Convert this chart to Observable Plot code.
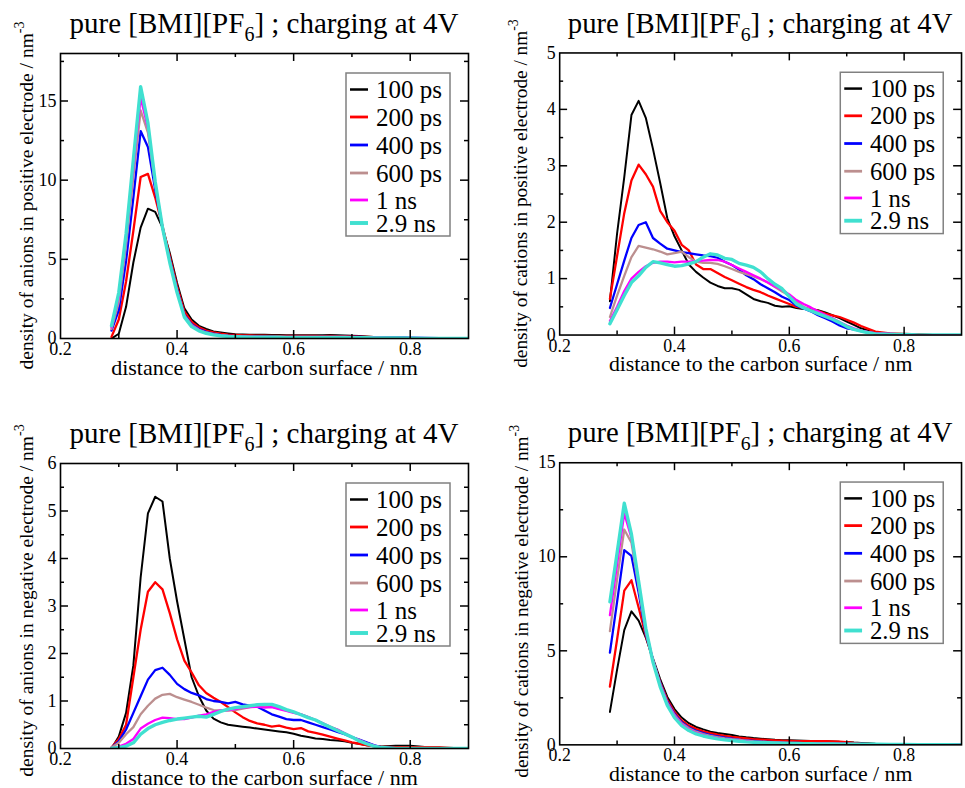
<!DOCTYPE html>
<html>
<head>
<meta charset="utf-8">
<script src="https://cdn.jsdelivr.net/npm/d3@7"></script>
<script src="https://cdn.jsdelivr.net/npm/@observablehq/plot@0.6"></script>
<style>
  html, body { margin: 0; padding: 0; background: #fff; overflow: hidden; }
  #root { position: relative; width: 965px; height: 788px; overflow: hidden; background: #fff; }
  .panel { position: absolute; }
</style>
</head>
<body>
<div id="root"></div>
<script>
// ---------------- data ----------------
const seriesLabels = ["100 ps", "200 ps", "400 ps", "600 ps", "1 ns", "2.9 ns"];

const distance = [0.2875, 0.3, 0.3125, 0.325, 0.3375, 0.35, 0.3625, 0.375, 0.3875, 0.4,
  0.4125, 0.425, 0.4375, 0.45, 0.4625, 0.475, 0.4875, 0.5, 0.5125, 0.525,
  0.5375, 0.55, 0.5625, 0.575, 0.5875, 0.6, 0.6125, 0.625, 0.6375, 0.65,
  0.6625, 0.675, 0.6875, 0.7, 0.7125, 0.725, 0.7375, 0.75, 0.775, 0.8,
  0.825, 0.85, 0.875, 0.9];

const xTickLabels = [0.2, 0.4, 0.6, 0.8];

// anions in positive electrode (top left), one row per series
const anionsPositive = [
  [0.0, 0.3, 2.0, 4.8, 7.0, 8.2, 8.0, 7.0, 5.4, 3.5, 1.9, 1.2, 0.8, 0.6, 0.45, 0.38, 0.32, 0.27,
   0.25, 0.24, 0.23, 0.23, 0.22, 0.22, 0.21, 0.21, 0.2, 0.2, 0.21, 0.2, 0.22, 0.2, 0.19, 0.18, 0.16, 0.13, 0.1, 0.08,
   0.05, 0.03, 0.02, 0.01, 0, 0],
  [0.1, 1.2, 3.6, 6.8, 10.2, 10.4, 8.9, 7.1, 5.2, 3.3, 1.7, 1.05, 0.7, 0.5, 0.38, 0.3, 0.25, 0.22,
   0.2, 0.19, 0.18, 0.18, 0.17, 0.17, 0.16, 0.16, 0.17, 0.16, 0.16, 0.15, 0.16, 0.15, 0.15, 0.14, 0.12, 0.1, 0.08, 0.06,
   0.04, 0.03, 0.02, 0.01, 0, 0],
  [0.5, 1.8, 4.9, 8.9, 13.1, 12.1, 9.4, 7.0, 5.0, 3.1, 1.5, 0.9, 0.6, 0.42, 0.3, 0.23, 0.18, 0.15,
   0.13, 0.12, 0.12, 0.11, 0.11, 0.1, 0.1, 0.1, 0.1, 0.1, 0.1, 0.1, 0.1, 0.1, 0.1, 0.1, 0.1, 0.09, 0.09, 0.08,
   0.07, 0.06, 0.04, 0.02, 0.01, 0],
  [0.6, 2.3, 5.9, 10.2, 14.4, 13.0, 9.7, 7.0, 4.9, 3.0, 1.45, 0.85, 0.55, 0.38, 0.27, 0.2, 0.16, 0.13,
   0.12, 0.11, 0.1, 0.1, 0.1, 0.1, 0.09, 0.09, 0.09, 0.09, 0.09, 0.08, 0.08, 0.08, 0.08, 0.07, 0.07, 0.06, 0.06, 0.05,
   0.04, 0.03, 0.02, 0.01, 0, 0],
  [0.7, 2.6, 6.3, 10.8, 15.2, 13.3, 9.8, 7.0, 4.9, 3.0, 1.4, 0.8, 0.52, 0.36, 0.25, 0.19, 0.15, 0.12,
   0.11, 0.1, 0.1, 0.09, 0.09, 0.09, 0.08, 0.08, 0.08, 0.08, 0.08, 0.08, 0.07, 0.07, 0.07, 0.06, 0.06, 0.05, 0.05, 0.04,
   0.03, 0.02, 0.02, 0.02, 0.03, 0.02],
  [0.8, 2.9, 6.6, 11.3, 15.9, 13.6, 9.9, 7.0, 4.8, 2.9, 1.35, 0.75, 0.48, 0.33, 0.23, 0.17, 0.13, 0.11,
   0.1, 0.09, 0.09, 0.08, 0.08, 0.08, 0.07, 0.07, 0.07, 0.07, 0.07, 0.06, 0.06, 0.06, 0.06, 0.05, 0.05, 0.05, 0.04, 0.04,
   0.03, 0.02, 0.01, 0.01, 0, 0]
];

// cations in positive electrode (top right)
const cationsPositive = [
  [0.6, 1.8, 2.8, 3.9, 4.15, 3.85, 3.3, 2.7, 2.07, 1.75, 1.5, 1.25, 1.12, 1.02, 0.93, 0.87, 0.83, 0.83, 0.8, 0.72,
   0.64, 0.6, 0.57, 0.52, 0.5, 0.51, 0.48, 0.46, 0.46, 0.44, 0.4, 0.35, 0.3, 0.24, 0.18, 0.12, 0.08, 0.05,
   0.02, 0.01, 0.01, 0, 0, 0],
  [0.64, 1.4, 2.16, 2.74, 3.02, 2.85, 2.63, 2.2, 2.0, 1.85, 1.6, 1.5, 1.25, 1.17, 1.17, 1.1, 1.03, 0.97, 0.91, 0.85,
   0.8, 0.76, 0.7, 0.65, 0.6, 0.55, 0.5, 0.48, 0.46, 0.43, 0.38, 0.35, 0.32, 0.27, 0.22, 0.16, 0.11, 0.06,
   0.03, 0.02, 0.01, 0, 0, 0],
  [0.48, 0.9, 1.32, 1.72, 1.95, 2.0, 1.72, 1.62, 1.53, 1.5, 1.47, 1.45, 1.43, 1.41, 1.4, 1.37, 1.3, 1.24, 1.16, 1.06,
   0.99, 0.9, 0.83, 0.76, 0.68, 0.62, 0.52, 0.47, 0.42, 0.35, 0.3, 0.24, 0.17, 0.12, 0.1, 0.07, 0.05, 0.03,
   0.02, 0.01, 0, 0, 0, 0],
  [0.32, 0.7, 1.05, 1.38, 1.58, 1.55, 1.52, 1.48, 1.43, 1.45, 1.48, 1.38, 1.3, 1.28, 1.28, 1.26, 1.22, 1.17, 1.12, 1.08,
   1.04, 0.99, 0.93, 0.85, 0.77, 0.7, 0.6, 0.5, 0.44, 0.39, 0.34, 0.29, 0.22, 0.16, 0.11, 0.08, 0.05, 0.03,
   0.02, 0.01, 0, 0, 0, 0],
  [0.25, 0.5, 0.78, 1.0, 1.12, 1.22, 1.28, 1.3, 1.3, 1.29, 1.3, 1.3, 1.31, 1.32, 1.33, 1.33, 1.3, 1.24, 1.18, 1.12,
   1.06, 1.0, 0.93, 0.86, 0.8, 0.72, 0.62, 0.55, 0.49, 0.42, 0.36, 0.3, 0.23, 0.17, 0.12, 0.08, 0.05, 0.03,
   0.02, 0.01, 0, 0, 0, 0],
  [0.2, 0.45, 0.7, 0.93, 1.05, 1.2, 1.3, 1.28, 1.25, 1.22, 1.23, 1.26, 1.3, 1.38, 1.44, 1.42, 1.36, 1.34, 1.27, 1.24,
   1.2, 1.12, 1.0, 0.9, 0.82, 0.68, 0.55, 0.48, 0.43, 0.38, 0.33, 0.28, 0.22, 0.15, 0.1, 0.07, 0.04, 0.02,
   0.01, 0.01, 0, 0, 0, 0]
];

// anions in negative electrode (bottom left)
const anionsNegative = [
  [0.0, 0.25, 0.75, 1.75, 3.6, 4.95, 5.3, 5.2, 4.0, 3.1, 2.3, 1.5, 1.1, 0.8, 0.63, 0.55, 0.5, 0.48, 0.46, 0.44,
   0.42, 0.4, 0.38, 0.36, 0.34, 0.31, 0.27, 0.24, 0.21, 0.2, 0.18, 0.17, 0.15, 0.12, 0.1, 0.07, 0.05, 0.04,
   0.06, 0.06, 0.03, 0.01, 0, 0],
  [0.02, 0.2, 0.5, 1.5, 2.5, 3.3, 3.5, 3.35, 2.85, 2.3, 1.85, 1.6, 1.33, 1.17, 1.07, 0.98, 0.87, 0.76, 0.66, 0.58,
   0.53, 0.5, 0.46, 0.48, 0.44, 0.41, 0.43, 0.36, 0.33, 0.29, 0.25, 0.21, 0.17, 0.13, 0.1, 0.07, 0.05, 0.04,
   0.03, 0.03, 0.03, 0.03, 0.01, 0],
  [0.02, 0.15, 0.4, 0.75, 1.1, 1.45, 1.65, 1.7, 1.55, 1.36, 1.25, 1.17, 1.12, 1.04, 1.0, 0.98, 0.95, 0.98, 0.93, 0.9,
   0.88, 0.8, 0.72, 0.67, 0.62, 0.6, 0.6, 0.55, 0.5, 0.45, 0.4, 0.35, 0.3, 0.24, 0.19, 0.13, 0.07, 0.03,
   0.01, 0, 0, 0, 0, 0],
  [0.02, 0.12, 0.3, 0.45, 0.72, 0.9, 1.05, 1.13, 1.15, 1.08, 1.03, 0.98, 0.92, 0.86, 0.81, 0.8, 0.8, 0.81, 0.84, 0.87,
   0.89, 0.9, 0.88, 0.84, 0.8, 0.76, 0.72, 0.66, 0.6, 0.53, 0.46, 0.4, 0.32, 0.24, 0.18, 0.11, 0.06, 0.02,
   0, 0, 0, 0, 0, 0],
  [0.0, 0.04, 0.1, 0.2, 0.42, 0.52, 0.6, 0.65, 0.64, 0.62, 0.62, 0.65, 0.69, 0.72, 0.77, 0.8, 0.81, 0.83, 0.86, 0.87,
   0.88, 0.86, 0.87, 0.83, 0.79, 0.75, 0.72, 0.66, 0.6, 0.53, 0.45, 0.4, 0.32, 0.24, 0.18, 0.11, 0.06, 0.02,
   0, 0, 0, 0, 0, 0],
  [0.0, 0.02, 0.05, 0.12, 0.3, 0.42, 0.5, 0.55, 0.59, 0.62, 0.64, 0.66, 0.68, 0.66, 0.72, 0.78, 0.83, 0.86, 0.88, 0.9,
   0.92, 0.93, 0.93, 0.88, 0.82, 0.77, 0.71, 0.65, 0.6, 0.52, 0.45, 0.38, 0.31, 0.24, 0.16, 0.1, 0.05, 0.02,
   0, 0, 0, 0, 0, 0]
];

// cations in negative electrode (bottom right)
const cationsNegative = [
  [1.75, 4.0, 6.1, 7.1, 6.6, 5.7, 4.6, 3.5, 2.55, 1.9, 1.45, 1.15, 0.95, 0.82, 0.7, 0.63, 0.58, 0.52, 0.45, 0.4,
   0.36, 0.33, 0.3, 0.27, 0.25, 0.24, 0.23, 0.22, 0.21, 0.2, 0.19, 0.18, 0.16, 0.15, 0.12, 0.1, 0.08, 0.06,
   0.04, 0.03, 0.01, 0, 0, 0],
  [3.1, 5.6, 8.2, 8.75, 7.3, 5.8, 4.5, 3.35, 2.4, 1.75, 1.3, 1.02, 0.85, 0.72, 0.62, 0.54, 0.48, 0.42, 0.38, 0.34,
   0.3, 0.28, 0.26, 0.24, 0.22, 0.21, 0.2, 0.2, 0.2, 0.2, 0.2, 0.19, 0.17, 0.15, 0.1, 0.07, 0.05, 0.04,
   0.03, 0.02, 0.01, 0, 0, 0],
  [4.9, 7.6, 10.35, 10.05, 8.1, 5.9, 4.5, 3.3, 2.3, 1.65, 1.2, 0.92, 0.75, 0.62, 0.52, 0.45, 0.38, 0.33, 0.28, 0.24,
   0.21, 0.18, 0.16, 0.14, 0.12, 0.11, 0.1, 0.09, 0.08, 0.08, 0.07, 0.07, 0.06, 0.06, 0.05, 0.05, 0.04, 0.04,
   0.03, 0.03, 0.02, 0.02, 0.01, 0.01],
  [6.05, 8.8, 11.45, 10.75, 8.4, 6.0, 4.5, 3.25, 2.25, 1.6, 1.15, 0.88, 0.7, 0.57, 0.48, 0.41, 0.35, 0.3, 0.26, 0.22,
   0.19, 0.17, 0.15, 0.13, 0.11, 0.1, 0.09, 0.08, 0.08, 0.07, 0.07, 0.06, 0.06, 0.05, 0.05, 0.04, 0.04, 0.03,
   0.03, 0.02, 0.02, 0.01, 0.01, 0],
  [6.9, 9.6, 12.3, 11.0, 8.6, 6.1, 4.5, 3.2, 2.2, 1.55, 1.1, 0.82, 0.64, 0.52, 0.43, 0.36, 0.3, 0.26, 0.22, 0.19,
   0.16, 0.14, 0.13, 0.11, 0.1, 0.09, 0.08, 0.07, 0.07, 0.06, 0.06, 0.05, 0.05, 0.04, 0.04, 0.03, 0.03, 0.03,
   0.02, 0.02, 0.01, 0.01, 0, 0],
  [7.6, 10.2, 12.85, 11.2, 8.7, 6.2, 4.4, 3.1, 2.1, 1.45, 1.02, 0.76, 0.58, 0.47, 0.39, 0.32, 0.27, 0.23, 0.19, 0.16,
   0.14, 0.12, 0.11, 0.1, 0.09, 0.08, 0.07, 0.06, 0.06, 0.05, 0.05, 0.05, 0.04, 0.04, 0.04, 0.03, 0.03, 0.03,
   0.02, 0.02, 0.01, 0.01, 0.01, 0]
];

// ---------------- styles ----------------
const seriesColors = ["#000000", "#ff0000", "#0000ff", "#bc8f8f", "#ff00ff", "#40e0d0"];
const seriesWidths = [2, 2.3, 2.3, 2.3, 2.3, 3.4];
const FONT = "'Liberation Serif', 'Times New Roman', serif";

const panels = [
  { left: 0, top: 0, width: 480, height: 390, mL: 60, mR: 12, mT: 53, mB: 52,
    ymax: 18, yStep: 5, yTicks: [0, 5, 10, 15], values: anionsPositive,
    ylabel: "density of anions in positive electrode / nm", ylabX: 33, ylabShift: 0, titleX: 264, titleY: 33,
    legX: 346, legY: 73 },
  { left: 480, top: 0, width: 490, height: 390, mL: 80, mR: 4, mT: 53, mB: 52,
    ymax: 5, yStep: 1, yTicks: [0, 1, 2, 3, 4, 5], values: cationsPositive,
    ylabel: "density of cations in positive electrode / nm", ylabX: 47, ylabShift: 0, titleX: 283, titleY: 33,
    legX: 364, legY: 73 },
  { left: 0, top: 390, width: 480, height: 398, mL: 60, mR: 12, mT: 73, mB: 40,
    ymax: 6, yStep: 1, yTicks: [0, 1, 2, 3, 4, 5, 6], values: anionsNegative,
    ylabel: "density of anions in negative electrode / nm", ylabX: 33, ylabShift: -5, titleX: 264, titleY: 53,
    legX: 346, legY: 93 },
  { left: 480, top: 390, width: 490, height: 398, mL: 80, mR: 4, mT: 73, mB: 40,
    ymax: 15, yStep: 5, yTicks: [0, 5, 10, 15], values: cationsNegative,
    ylabel: "density of cations in negative electrode / nm", ylabX: 48, ylabShift: -2, titleX: 283, titleY: 53,
    legX: 364, legY: 93 }
];

const legendRowOffsets = [16.5, 44, 72, 100, 127, 150];

function drawPanel(cfg) {
  const fw = cfg.width - cfg.mL - cfg.mR;
  const fh = cfg.height - cfg.mT - cfg.mB;
  const rows = [];
  cfg.values.forEach((vals, s) => vals.forEach((v, i) =>
    rows.push({ distance: distance[i], density: v, series: seriesLabels[s] })));

  const xMajor = [0.4, 0.6, 0.8];
  const xMinor = [0.3, 0.5, 0.7];
  const yMajor = cfg.yTicks.filter(v => v > 0 && v < cfg.ymax);
  const yMinor = d3.range(cfg.yStep / 2, cfg.ymax, cfg.yStep);
  const tw = 1.5, major = 8, minor = 4;

  const svg = Plot.plot({
    width: cfg.width, height: cfg.height,
    marginLeft: cfg.mL, marginRight: cfg.mR, marginTop: cfg.mT, marginBottom: cfg.mB,
    x: { domain: [0.2, 0.9] },
    y: { domain: [0, cfg.ymax] },
    color: { domain: seriesLabels, range: seriesColors },
    style: { fontFamily: FONT, fontSize: "18px", color: "#000", background: "transparent", overflow: "visible" },
    marks: [
      ...seriesLabels.map((s, k) => Plot.line(rows.filter(r => r.series === s),
        { x: "distance", y: "density", stroke: "series", strokeWidth: seriesWidths[k], clip: true })),
      Plot.ruleX(xMajor, { insetTop: fh - major, strokeWidth: tw }),
      Plot.ruleX(xMajor, { insetBottom: fh - major, strokeWidth: tw }),
      Plot.ruleX(xMinor, { insetTop: fh - minor, strokeWidth: tw }),
      Plot.ruleX(xMinor, { insetBottom: fh - minor, strokeWidth: tw }),
      Plot.ruleY(yMajor, { insetRight: fw - major, strokeWidth: tw }),
      Plot.ruleY(yMajor, { insetLeft: fw - major, strokeWidth: tw }),
      Plot.ruleY(yMinor, { insetRight: fw - minor, strokeWidth: tw }),
      Plot.ruleY(yMinor, { insetLeft: fw - minor, strokeWidth: tw }),
      Plot.frame({ strokeWidth: 1.6 }),
      Plot.axisX(xTickLabels, { tickSize: 0, tickPadding: 4, tickFormat: d3.format(".1f"), fontSize: 18, label: null }),
      Plot.axisY(cfg.yTicks, { tickSize: 0, tickPadding: 4, tickFormat: d3.format("d"), fontSize: 18, label: null }),
      Plot.text(["distance to the carbon surface / nm"],
        { frameAnchor: "bottom", lineAnchor: "middle", dy: 29, fontSize: 22, text: d => d })
    ]
  });

  const s = d3.select(svg);
  // title with subscript
  const t = s.append("text")
    .attr("x", cfg.titleX).attr("y", cfg.titleY)
    .attr("text-anchor", "middle")
    .attr("font-family", FONT).attr("font-size", 29).attr("fill", "#000");
  t.append("tspan").text("pure [BMI][PF");
  t.append("tspan").attr("dy", 8).attr("font-size", 20).text("6");
  t.append("tspan").attr("dy", -8).text("] ; charging at 4V");

  // rotated y label with superscript
  const cy = cfg.mT + fh / 2 + cfg.ylabShift;
  const yl = s.append("text")
    .attr("transform", `translate(${cfg.ylabX},${cy}) rotate(-90)`)
    .attr("text-anchor", "middle")
    .attr("font-family", FONT).attr("font-size", 19.5).attr("fill", "#000");
  yl.append("tspan").text(cfg.ylabel);
  yl.append("tspan").attr("dy", -9).attr("font-size", 14).text("-3");

  // legend
  const g = s.append("g");
  g.append("rect").attr("x", cfg.legX).attr("y", cfg.legY).attr("width", 104).attr("height", 163)
    .attr("fill", "#fff").attr("stroke", "#808080").attr("stroke-width", 1.5);
  seriesLabels.forEach((lab, k) => {
    const yy = cfg.legY + legendRowOffsets[k];
    g.append("line").attr("x1", cfg.legX + 4).attr("x2", cfg.legX + 22).attr("y1", yy).attr("y2", yy)
      .attr("stroke", seriesColors[k]).attr("stroke-width", seriesWidths[k] + 0.5);
    g.append("text").attr("x", cfg.legX + 30).attr("y", yy).attr("dy", "0.35em")
      .attr("text-anchor", "start")
      .attr("font-family", FONT).attr("font-size", 25).attr("fill", "#000").text(lab);
  });

  const div = document.createElement("div");
  div.className = "panel";
  div.style.left = cfg.left + "px";
  div.style.top = cfg.top + "px";
  div.appendChild(svg);
  document.getElementById("root").appendChild(div);
}

panels.forEach(drawPanel);
</script>
</body>
</html>
